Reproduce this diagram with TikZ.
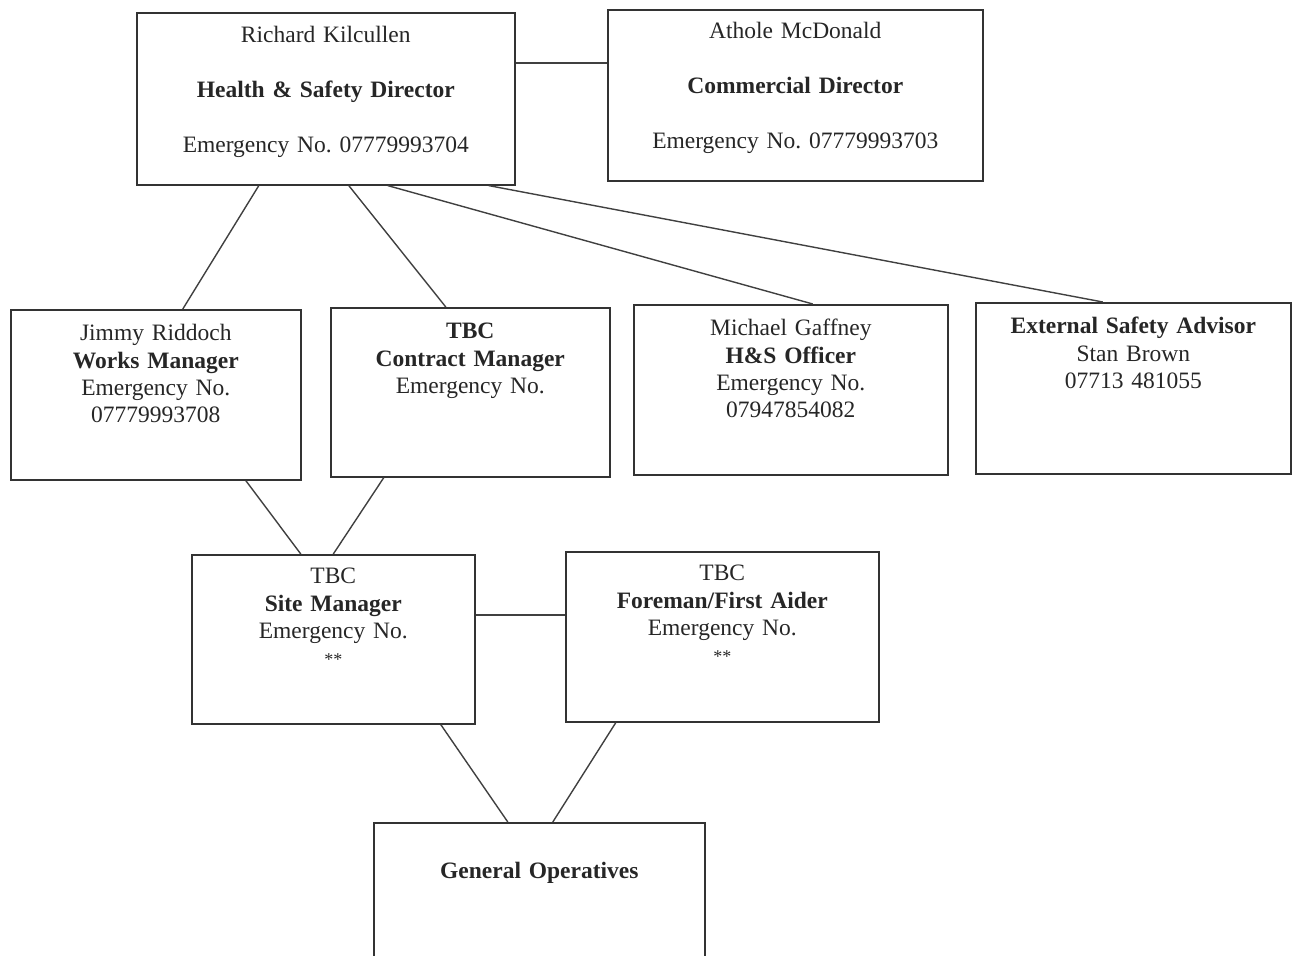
\documentclass[tikz,border=0pt]{standalone}
\usepackage{fontspec}
\setmainfont{Liberation Serif}
\usepackage{tikz}
\frenchspacing
\tikzstyle{card} = [rectangle, draw=black!80, line width=0.8pt, align=center, inner sep=0pt, anchor=north west, font=\fontsize{11.75}{13.6}\selectfont, text=black!85]
\tikzstyle{link} = [line width=0.7pt, draw=black!75]
\tikzset{cardsize/.style n args={3}{text width=#1, text height=#2, text depth=#3}}

\begin{document}
\begin{tikzpicture}[x=0.5pt, y=-0.5pt]
            \useasboundingbox (0,0) rectangle (1292,955);
            \clip (0,0) rectangle (1292,955);
            % Boxes
            \node [card, cardsize={189pt}{15pt}{71pt}] (hsd) at (136,12) {Richard Kilcullen\\[13.75pt] \textbf{Health \& Safety Director}\\[13.75pt] Emergency No. 07779993704};
            \node [card, cardsize={187.5pt}{14.5pt}{71pt}] (comm) at (607,9) {Athole McDonald\\[13.75pt] \textbf{Commercial Director}\\[13.75pt] Emergency No. 07779993703};
            \node [card, cardsize={145pt}{15.5pt}{69.5pt}] (works) at (10,309) {Jimmy Riddoch\\ \textbf{Works Manager}\\ Emergency No.\\ 07779993708};
            \node [card, cardsize={139.5pt}{15.5pt}{69pt}] (contract) at (330,307) {\textbf{TBC}\\ \textbf{Contract Manager}\\ Emergency No.};
            \node [card, cardsize={157pt}{15.5pt}{69.5pt}] (hso) at (633,304) {Michael Gaffney\\ \textbf{H\&S Officer}\\ Emergency No.\\ 07947854082};
            \node [card, cardsize={157.5pt}{15.5pt}{70pt}] (esa) at (975,302) {\textbf{External Safety Advisor}\\ Stan Brown\\ 07713 481055};
            \node [card, cardsize={141.5pt}{14.5pt}{70pt}] (site) at (191,554) {TBC\\ \textbf{Site Manager}\\ Emergency No.\\ {\small **}};
            \node [card, cardsize={156.5pt}{14.5pt}{70.5pt}] (fore) at (565,551) {TBC\\ \textbf{Foreman/First Aider}\\ Emergency No.\\ {\small **}};
            \node [card, cardsize={165.5pt}{28pt}{57pt}] (genop) at (373,822) {\textbf{General Operatives}};

            % Lines
            \draw [link] ([yshift=18pt]hsd.east) -- ([yshift=18pt]hsd.east -| comm.west);
            \draw [link] ([xshift=-33.5pt]hsd.south) -- ([xshift=13.5pt]works.north);
            \draw [link] ([xshift=11.5pt]hsd.south) -- ([xshift=-12.25pt]contract.north);
            \draw [link] ([xshift=31pt]hsd.south) -- ([xshift=11pt]hso.north);
            \draw [link] ([xshift=81.5pt]hsd.south) -- ([xshift=-15.25pt]esa.north);
            \draw [link] ([xshift=45pt]works.south) -- ([xshift=-16.25pt]site.north);
            \draw [link] ([xshift=-43.25pt]contract.south) -- (site.north);
            \draw [link] ([yshift=12.25pt]site.east) -- ([yshift=12.25pt]site.east -| fore.west);
            \draw [link] ([xshift=53.75pt]site.south) -- ([xshift=-15.75pt]genop.north);
            \draw [link] ([xshift=-53.25pt]fore.south) -- ([xshift=6.75pt]genop.north);
        \end{tikzpicture}
\end{document}
